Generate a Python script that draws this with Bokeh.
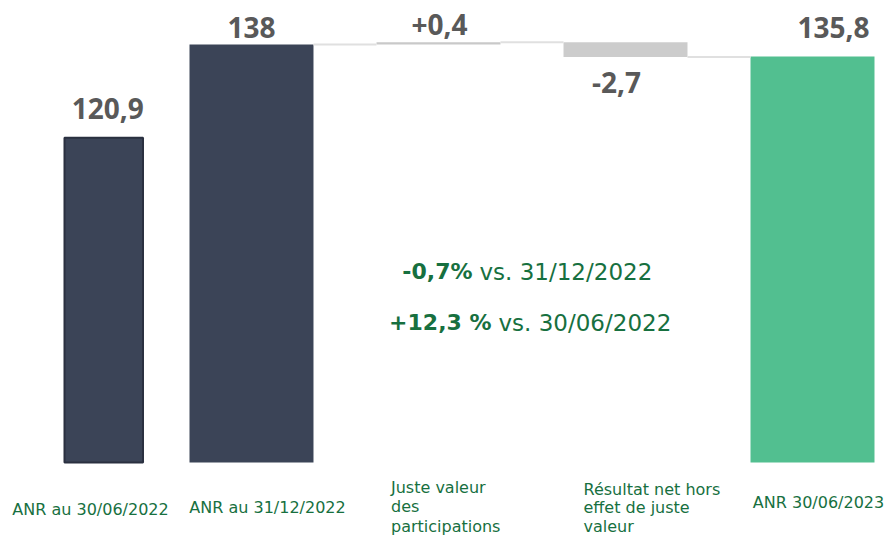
from bokeh.plotting import figure
from bokeh.models import ColumnDataSource, Range1d
from bokeh.core.properties import value
from bokeh.embed import file_html
from bokeh.resources import INLINE

# ---------------- data ----------------
categories = [
    "ANR au 30/06/2022",
    "ANR au 31/12/2022",
    "Juste valeur\ndes\nparticipations",
    "Résultat net hors\neffet de juste\nvaleur",
    "ANR 30/06/2023",
]
kinds = ["total", "total", "delta", "delta", "result"]
values = [120.9, 138.0, 0.4, -2.7, 135.8]
value_labels = ["120,9", "138", "+0,4", "-2,7", "135,8"]

note_bold = ["-0,7%", "+12,3 %"]
note_text = ["vs. 31/12/2022", "vs. 30/06/2022"]

# ---------------- layout / style ----------------
W, H = 888, 536
BASE = 61.3                 # value at the bars' foot
X_RANGE = (-0.3422, 4.4064)
Y_RANGE = (47.724, 146.073)

NAVY = "#3b4457"
GREEN = "#52bf90"
UP_GREY = "#c9c9c9"
DELTA_GREY = "#cccccc"
CONNECT = "#e0e0e0"
LABEL_GREEN = "#17703f"
NUM_GREY = "#595959"


def sx(px):
    return X_RANGE[0] + px / W * (X_RANGE[1] - X_RANGE[0])


def sy(py):
    return Y_RANGE[1] - py / H * (Y_RANGE[1] - Y_RANGE[0])


p = figure(width=W, height=H, output_backend="svg", toolbar_location=None,
           x_range=Range1d(*X_RANGE), y_range=Range1d(*Y_RANGE),
           min_border=0, min_border_left=0, min_border_right=0,
           min_border_top=0, min_border_bottom=0)
p.xaxis.visible = False
p.yaxis.visible = False
p.grid.visible = False
p.outline_line_color = None
p.background_fill_color = "white"
p.border_fill_color = "white"

# waterfall geometry
lefts, rights, bottoms, tops, fills, lcols, lalphas = [], [], [], [], [], [], []
running = 0.0
ends = []
for i, (k, v) in enumerate(zip(kinds, values)):
    if i == 0:
        c, w = i + 0.21, 0.42
    else:
        c, w = i, 0.663
    lefts.append(c - w / 2)
    rights.append(c + w / 2)
    if k in ("total", "result"):
        bottoms.append(BASE)
        tops.append(v)
        running = v
        fills.append(GREEN if k == "result" else NAVY)
    else:
        start = running
        running = running + v
        bottoms.append(min(start, running))
        tops.append(max(start, running))
        fills.append(UP_GREY if v > 0 else DELTA_GREY)
    ends.append(running)
    lcols.append("#2a3040")
    lalphas.append(1.0 if i == 0 else 0.0)

src = ColumnDataSource(dict(left=lefts, right=rights, bottom=bottoms, top=tops,
                            fill=fills, lc=lcols, la=lalphas))
p.quad(left="left", right="right", bottom="bottom", top="top", source=src,
       fill_color="fill", line_color="lc", line_alpha="la", line_width=2)

# connectors (from bar 2 onwards)
for i in range(1, len(values) - 1):
    p.line([rights[i], lefts[i + 1]], [ends[i], ends[i]],
           line_color=CONNECT, line_width=2)

# value labels
x_offs = [4, 0, 1, -9, 21]
y_offs = [-29, -17, -18, 25, -29]
for i, lab in enumerate(value_labels):
    c = (lefts[i] + rights[i]) / 2
    y = tops[i] if values[i] >= 0 else bottoms[i]
    p.text(x=[c], y=[y], text=[lab], x_offset=x_offs[i], y_offset=y_offs[i],
           text_font=value("Open Sans"), text_font_style="bold",
           text_font_size="28px", text_color=NUM_GREY,
           text_align="center", text_baseline="alphabetic")

# category labels
cat_align = ["center", "center", "left", "left", "center"]
cat_xoff = [26, 16, -47.5, -42, 6]
cat_yoff = [37, 35, 15, 17, 30]
cat_lh = [1.0, 1.0, 1.05, 0.99, 1.0]
for i, cat in enumerate(categories):
    p.text(x=[i], y=[BASE], text=[cat], x_offset=cat_xoff[i], y_offset=cat_yoff[i],
           text_font=value("DejaVu Sans"), text_font_size="16px",
           text_color=LABEL_GREEN, text_align=cat_align[i], text_baseline="top",
           text_line_height=cat_lh[i])

# central note
split_px = [472, 491]
base_px = [271, 322]
for b, t, xs, ys in zip(note_bold, note_text, split_px, base_px):
    p.text(x=[sx(xs)], y=[sy(ys)], text=[b], text_font=value("DejaVu Sans"),
           text_font_style="bold", text_font_size="22px", text_color=LABEL_GREEN,
           text_align="right", text_baseline="alphabetic")
    p.text(x=[sx(xs)], y=[sy(ys)], text=[t], x_offset=7,
           text_font=value("DejaVu Sans"),
           text_font_size="23px", text_color=LABEL_GREEN,
           text_align="left", text_baseline="alphabetic")

open("out.html", "w").write(file_html(p, INLINE))
